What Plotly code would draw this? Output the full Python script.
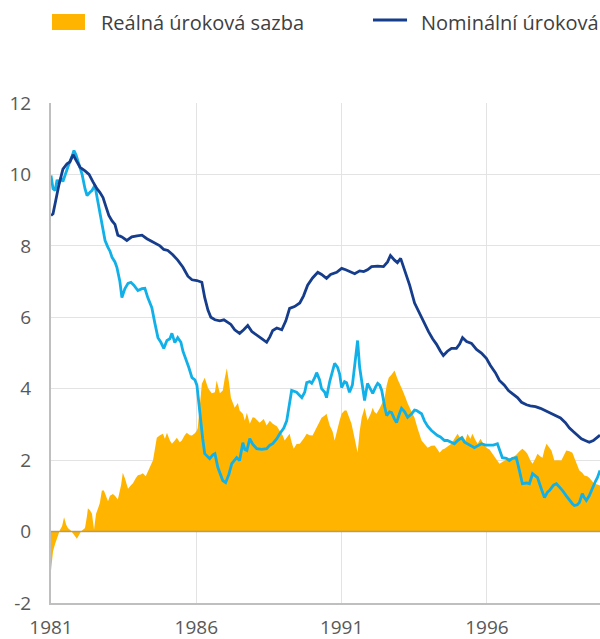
import plotly.graph_objects as go

# ---------------- data (decimal years) ----------------
nominal_x = [1981.00, 1981.07, 1981.17, 1981.27, 1981.41, 1981.55, 1981.65, 1981.76, 1981.86, 1982.00,
             1982.17, 1982.31, 1982.44, 1982.58, 1982.68, 1982.79, 1982.89, 1982.99, 1983.10, 1983.20,
             1983.30, 1983.44, 1983.61, 1983.78, 1983.96, 1984.13, 1984.30, 1984.47, 1984.61, 1984.75,
             1984.88, 1985.02, 1985.19, 1985.36, 1985.54, 1985.71, 1985.85, 1986.02, 1986.19, 1986.29,
             1986.40, 1986.50, 1986.64, 1986.81, 1986.95, 1987.05, 1987.19, 1987.32, 1987.49, 1987.63,
             1987.77, 1987.91, 1988.08, 1988.25, 1988.42, 1988.53, 1988.63, 1988.77, 1988.94, 1989.08,
             1989.21, 1989.38, 1989.56, 1989.69, 1989.83, 1990.00, 1990.18, 1990.31, 1990.48, 1990.62,
             1990.83, 1991.00, 1991.14, 1991.31, 1991.45, 1991.62, 1991.76, 1991.89, 1992.03, 1992.24,
             1992.44, 1992.58, 1992.68, 1992.82, 1992.92, 1993.03, 1993.17, 1993.34, 1993.51, 1993.68,
             1993.85, 1993.99, 1994.13, 1994.26, 1994.40, 1994.50, 1994.64, 1994.78, 1994.95, 1995.06,
             1995.16, 1995.30, 1995.47, 1995.64, 1995.81, 1995.98, 1996.12, 1996.29, 1996.43, 1996.60,
             1996.74, 1996.88, 1997.05, 1997.19, 1997.36, 1997.49, 1997.67, 1997.84, 1998.01, 1998.18,
             1998.35, 1998.53, 1998.70, 1998.84, 1998.97, 1999.11, 1999.25, 1999.38, 1999.52, 1999.66,
             1999.76, 1999.89]
nominal_y = [8.85, 8.9, 9.3, 9.7, 10.15, 10.3, 10.35, 10.55, 10.4, 10.2,
             10.1, 10.0, 9.8, 9.6, 9.5, 9.35, 9.1, 8.85, 8.7, 8.6,
             8.3, 8.25, 8.15, 8.25, 8.28, 8.3, 8.2, 8.12, 8.05, 8.0,
             7.9, 7.87, 7.75, 7.6, 7.4, 7.15, 7.05, 7.03, 6.98, 6.55,
             6.2, 6.0, 5.93, 5.9, 5.93, 5.88, 5.8, 5.65, 5.55, 5.65,
             5.77, 5.6, 5.49, 5.4, 5.3, 5.45, 5.63, 5.7, 5.65, 5.9,
             6.25, 6.3, 6.4, 6.6, 6.9, 7.1, 7.26, 7.2, 7.09, 7.2,
             7.26, 7.37, 7.33, 7.28, 7.22, 7.3, 7.28, 7.33, 7.42, 7.43,
             7.42, 7.55, 7.73, 7.6, 7.53, 7.65, 7.31, 6.9, 6.4, 6.1,
             5.85, 5.6, 5.4, 5.25, 5.05, 4.93, 5.05, 5.13, 5.13, 5.25,
             5.43, 5.32, 5.27, 5.1, 5.0, 4.85, 4.65, 4.45, 4.23, 4.1,
             3.95, 3.87, 3.75, 3.62, 3.55, 3.52, 3.5, 3.45, 3.38, 3.32,
             3.25, 3.18, 3.05, 2.9, 2.8, 2.7, 2.6, 2.55, 2.5, 2.55,
             2.62, 2.7]

inflation_x = [1981.00, 1981.07, 1981.14, 1981.21, 1981.27, 1981.34, 1981.41, 1981.52, 1981.62, 1981.72,
               1981.79, 1981.86, 1981.96, 1982.07, 1982.17, 1982.24, 1982.34, 1982.41, 1982.51, 1982.62,
               1982.68, 1982.79, 1982.86, 1982.96, 1983.03, 1983.10, 1983.20, 1983.27, 1983.37, 1983.44,
               1983.54, 1983.65, 1983.75, 1983.85, 1983.99, 1984.13, 1984.23, 1984.33, 1984.47, 1984.57,
               1984.68, 1984.78, 1984.88, 1984.99, 1985.09, 1985.16, 1985.26, 1985.36, 1985.47, 1985.54,
               1985.64, 1985.74, 1985.85, 1985.95, 1986.02, 1986.09, 1986.15, 1986.22, 1986.29, 1986.40,
               1986.46, 1986.57, 1986.64, 1986.74, 1986.84, 1986.91, 1987.01, 1987.12, 1987.22, 1987.32,
               1987.39, 1987.49, 1987.60, 1987.67, 1987.74, 1987.84, 1987.94, 1988.08, 1988.25, 1988.42,
               1988.53, 1988.63, 1988.77, 1988.87, 1989.01, 1989.11, 1989.21, 1989.28, 1989.45, 1989.63,
               1989.73, 1989.80, 1989.90, 1989.97, 1990.07, 1990.14, 1990.24, 1990.31, 1990.42, 1990.48,
               1990.59, 1990.66, 1990.76, 1990.86, 1990.93, 1991.00, 1991.10, 1991.17, 1991.27, 1991.37,
               1991.45, 1991.55, 1991.62, 1991.72, 1991.79, 1991.89, 1991.96, 1992.07, 1992.17, 1992.24,
               1992.31, 1992.38, 1992.48, 1992.55, 1992.65, 1992.72, 1992.82, 1992.89, 1992.99, 1993.06,
               1993.17, 1993.27, 1993.41, 1993.51, 1993.58, 1993.68, 1993.75, 1993.85, 1993.96, 1994.09,
               1994.20, 1994.30, 1994.40, 1994.54, 1994.64, 1994.78, 1994.88, 1994.99, 1995.13, 1995.23,
               1995.33, 1995.43, 1995.57, 1995.68, 1995.81, 1995.95, 1996.09, 1996.22, 1996.36, 1996.46,
               1996.53, 1996.67, 1996.77, 1996.88, 1997.01, 1997.12, 1997.22, 1997.36, 1997.46, 1997.57,
               1997.67, 1997.74, 1997.87, 1997.98, 1998.08, 1998.15, 1998.29, 1998.39, 1998.49, 1998.60,
               1998.73, 1998.84, 1998.94, 1999.01, 1999.11, 1999.18, 1999.28, 1999.35, 1999.42, 1999.52,
               1999.63, 1999.73, 1999.80, 1999.89]
inflation_y = [9.97, 9.6, 9.55, 9.85, 9.75, 9.9, 9.8, 10.1, 10.3, 10.5,
               10.67, 10.55, 10.3, 10.0, 9.6, 9.41, 9.5, 9.55, 9.69, 9.2,
               8.9, 8.45, 8.15, 7.96, 7.85, 7.68, 7.55, 7.39, 7.0, 6.55,
               6.8, 6.95, 6.98, 6.9, 6.75, 6.8, 6.81, 6.55, 6.27, 5.85,
               5.43, 5.3, 5.13, 5.35, 5.4, 5.55, 5.29, 5.43, 5.3, 5.05,
               4.85, 4.6, 4.31, 4.25, 4.1, 3.5, 3.1, 2.6, 2.18, 2.1,
               2.04, 2.15, 2.18, 1.8, 1.55, 1.43, 1.37, 1.6, 1.9, 2.0,
               2.07, 1.99, 2.49, 2.3, 2.27, 2.6, 2.45, 2.32, 2.3, 2.32,
               2.42, 2.46, 2.6, 2.74, 2.9, 3.1, 3.6, 3.95, 3.9, 3.75,
               3.9, 4.17, 4.2, 4.15, 4.3, 4.45, 4.25, 4.0, 3.9, 3.75,
               4.2, 4.42, 4.71, 4.6, 4.42, 4.03, 4.2, 4.17, 3.9, 4.1,
               4.6, 5.35, 4.6, 4.0, 3.67, 4.15, 4.05, 3.87, 4.05, 4.15,
               4.1, 3.95, 3.5, 3.25, 3.35, 3.33, 3.15, 3.05, 3.3, 3.45,
               3.35, 3.2, 3.3, 3.4, 3.39, 3.35, 3.3, 3.1, 2.95, 2.83,
               2.75, 2.69, 2.65, 2.55, 2.55, 2.5, 2.46, 2.55, 2.63, 2.5,
               2.46, 2.42, 2.35, 2.4, 2.46, 2.42, 2.41, 2.42, 2.46, 2.25,
               2.07, 2.05, 1.99, 2.05, 2.07, 1.7, 1.34, 1.36, 1.34, 1.62,
               1.55, 1.51, 1.2, 0.95, 1.1, 1.15, 1.3, 1.34, 1.25, 1.15,
               1.0, 0.87, 0.78, 0.73, 0.75, 0.81, 1.06, 0.95, 0.87, 1.0,
               1.23, 1.4, 1.51, 1.71]

real_x = [1981.00, 1981.03, 1981.07, 1981.14, 1981.24, 1981.31, 1981.38, 1981.45, 1981.52, 1981.58,
          1981.69, 1981.76, 1981.82, 1981.89, 1981.96, 1982.03, 1982.10, 1982.17, 1982.24, 1982.27,
          1982.34, 1982.41, 1982.48, 1982.55, 1982.62, 1982.68, 1982.75, 1982.82, 1982.89, 1982.96,
          1983.03, 1983.13, 1983.20, 1983.30, 1983.41, 1983.47, 1983.54, 1983.65, 1983.75, 1983.82,
          1983.92, 1983.99, 1984.09, 1984.16, 1984.26, 1984.33, 1984.40, 1984.51, 1984.57, 1984.64,
          1984.75, 1984.85, 1984.92, 1984.99, 1985.09, 1985.16, 1985.26, 1985.33, 1985.43, 1985.50,
          1985.60, 1985.67, 1985.78, 1985.85, 1985.95, 1986.02, 1986.05, 1986.12, 1986.19, 1986.29,
          1986.40, 1986.46, 1986.53, 1986.64, 1986.70, 1986.81, 1986.91, 1986.98, 1987.05, 1987.12,
          1987.19, 1987.32, 1987.43, 1987.49, 1987.60, 1987.67, 1987.74, 1987.84, 1987.94, 1988.01,
          1988.11, 1988.18, 1988.32, 1988.42, 1988.53, 1988.63, 1988.77, 1988.87, 1988.97, 1989.04,
          1989.14, 1989.21, 1989.28, 1989.35, 1989.45, 1989.56, 1989.69, 1989.80, 1989.90, 1990.00,
          1990.07, 1990.14, 1990.24, 1990.31, 1990.42, 1990.48, 1990.59, 1990.69, 1990.76, 1990.83,
          1990.93, 1991.00, 1991.10, 1991.17, 1991.27, 1991.34, 1991.45, 1991.55, 1991.62, 1991.69,
          1991.79, 1991.89, 1992.00, 1992.07, 1992.13, 1992.20, 1992.31, 1992.38, 1992.48, 1992.55,
          1992.62, 1992.72, 1992.82, 1992.92, 1993.03, 1993.10, 1993.20, 1993.27, 1993.41, 1993.51,
          1993.61, 1993.75, 1993.85, 1993.96, 1994.09, 1994.20, 1994.30, 1994.37, 1994.47, 1994.54,
          1994.68, 1994.78, 1994.88, 1994.99, 1995.09, 1995.16, 1995.26, 1995.33, 1995.43, 1995.50,
          1995.61, 1995.68, 1995.78, 1995.88, 1995.98, 1996.09, 1996.19, 1996.29, 1996.43, 1996.53,
          1996.60, 1996.74, 1996.88, 1997.01, 1997.12, 1997.22, 1997.32, 1997.39, 1997.49, 1997.57,
          1997.67, 1997.74, 1997.84, 1997.91, 1997.98, 1998.05, 1998.15, 1998.22, 1998.32, 1998.42,
          1998.56, 1998.67, 1998.73, 1998.84, 1998.94, 1999.04, 1999.18, 1999.28, 1999.35, 1999.45,
          1999.52, 1999.63, 1999.69, 1999.80, 1999.89]
real_y = [-1.1, -0.9, -0.55, -0.35, -0.1, 0.05, 0.15, 0.4, 0.2, 0.1,
          0.02, -0.05, -0.1, -0.2, -0.1, 0.0, 0.05, 0.1, 0.45, 0.65,
          0.6, 0.5, 0.05, 0.5, 0.65, 0.8, 1.15, 1.15, 1.0, 0.85,
          1.0, 1.05, 1.0, 0.9, 1.3, 1.65, 1.5, 1.2, 1.3, 1.35,
          1.5, 1.58, 1.6, 1.63, 1.55, 1.7, 1.8, 2.0, 2.3, 2.63,
          2.7, 2.74, 2.6, 2.77, 2.55, 2.46, 2.55, 2.63, 2.5, 2.55,
          2.7, 2.77, 2.7, 2.69, 2.75, 2.83, 2.91, 3.5, 4.14, 4.31,
          4.03, 3.95, 3.87, 3.9, 4.23, 3.87, 3.95, 4.3, 4.57, 4.2,
          3.75, 3.47, 3.6, 3.39, 3.3, 3.11, 3.33, 3.02, 3.2, 3.19,
          3.1, 3.05, 3.15, 2.97, 3.1, 3.02, 2.95, 2.83, 2.7, 2.55,
          2.65, 2.74, 2.5, 2.32, 2.45, 2.46, 2.6, 2.74, 2.7, 2.69,
          2.8, 2.91, 3.05, 3.19, 3.25, 3.3, 2.97, 2.8, 2.55, 2.8,
          3.11, 3.3, 3.39, 3.39, 3.2, 3.02, 2.6, 2.21, 2.8, 3.19,
          3.47, 3.11, 3.3, 3.47, 3.35, 3.3, 3.45, 3.59, 3.75, 4.1,
          4.31, 4.4, 4.51, 4.28, 4.1, 3.95, 3.75, 3.59, 3.35, 3.19,
          2.9, 2.55, 2.45, 2.35, 2.4, 2.41, 2.3, 2.21, 2.3, 2.32,
          2.4, 2.46, 2.6, 2.74, 2.6, 2.69, 2.55, 2.74, 2.6, 2.74,
          2.55, 2.46, 2.6, 2.45, 2.35, 2.3, 2.18, 2.05, 1.9, 1.95,
          1.99, 2.05, 2.07, 2.15, 2.25, 2.32, 2.25, 2.18, 2.0, 1.9,
          2.05, 2.18, 2.1, 2.07, 2.3, 2.46, 2.35, 2.27, 1.99, 2.0,
          1.99, 2.15, 2.27, 2.25, 2.21, 2.0, 1.71, 1.65, 1.57, 1.55,
          1.51, 1.4, 1.34, 1.32, 1.29]

x_tick_vals = [1981, 1986, 1991, 1996]
x_tick_text = ["1981", "1986", "1991", "1996"]
y_tick_vals = [-2, 0, 2, 4, 6, 8, 10, 12]
y_tick_text = ["-2", "0", "2", "4", "6", "8", "10", "12"]

# legend labels as visible in the reference (the second one is cut by the frame edge there)
legend_names = ["Reálná úroková sazba", "Nominální úroková"]

# ---------------- styles ----------------
ORANGE = "#FFB400"
DARK_BLUE = "#163C8C"
LIGHT_BLUE = "#12B0E8"
FONT = "Open Sans"

fig = go.Figure()
fig.add_trace(go.Scatter(x=real_x, y=real_y, name=legend_names[0], mode="lines",
                         fill="tozeroy", fillcolor=ORANGE, line=dict(width=0, color=ORANGE),
                         showlegend=False))
fig.add_trace(go.Scatter(x=inflation_x, y=inflation_y, name="Inflace", mode="lines",
                         line=dict(color=LIGHT_BLUE, width=2.8), showlegend=False))
fig.add_trace(go.Scatter(x=nominal_x, y=nominal_y, name=legend_names[1], mode="lines",
                         line=dict(color=DARK_BLUE, width=2.8), showlegend=False))

# zero line drawn above the area
fig.add_hline(y=0, line=dict(color="rgba(150,140,120,0.75)", width=1.5), layer="above")

# legend (custom, positioned like the reference)
fig.add_shape(type="rect", xref="paper", yref="paper",
              x0=0.0018, x1=0.0619, y0=1.146, y1=1.178,
              fillcolor=ORANGE, line=dict(width=0))
fig.add_shape(type="line", xref="paper", yref="paper",
              x0=0.5865, x1=0.6485, y0=1.166, y1=1.166,
              line=dict(color=DARK_BLUE, width=3))
fig.add_annotation(xref="paper", yref="paper", x=0.0947, y=1.162, text=legend_names[0],
                   showarrow=False, xanchor="left", yanchor="middle", xshift=-4,
                   font=dict(family=FONT, size=20, color="#404040"))
fig.add_annotation(xref="paper", yref="paper", x=0.6776, y=1.162, text=legend_names[1],
                   showarrow=False, xanchor="left", yanchor="middle", xshift=-4,
                   font=dict(family=FONT, size=20, color="#404040"))

fig.update_layout(
    width=600, height=639,
    margin=dict(l=51, r=0, t=103, b=36),
    paper_bgcolor="white", plot_bgcolor="white",
    font=dict(family=FONT, size=19, color="#595959"),
    showlegend=False,
)
fig.update_xaxes(range=[1981, 1999.89], tickvals=x_tick_vals, ticktext=x_tick_text,
                 showgrid=True, gridcolor="#E3E3E3", gridwidth=1,
                 showline=True, linecolor="#BFBFBF", linewidth=2,
                 zeroline=False, ticks="", ticklabelstandoff=6,
                 tickfont=dict(family=FONT, size=19, color="#595959"))
fig.update_yaxes(range=[-2, 12], tickvals=y_tick_vals, ticktext=y_tick_text,
                 showgrid=True, gridcolor="#E3E3E3", gridwidth=1,
                 showline=True, linecolor="#BFBFBF", linewidth=2,
                 zeroline=False, ticks="", ticklabelstandoff=14,
                 tickfont=dict(family=FONT, size=19, color="#595959"))

fig.write_html("out.html", config={"displayModeBar": False},
               post_script="document.body.style.margin='0';document.body.style.overflow='hidden';")
